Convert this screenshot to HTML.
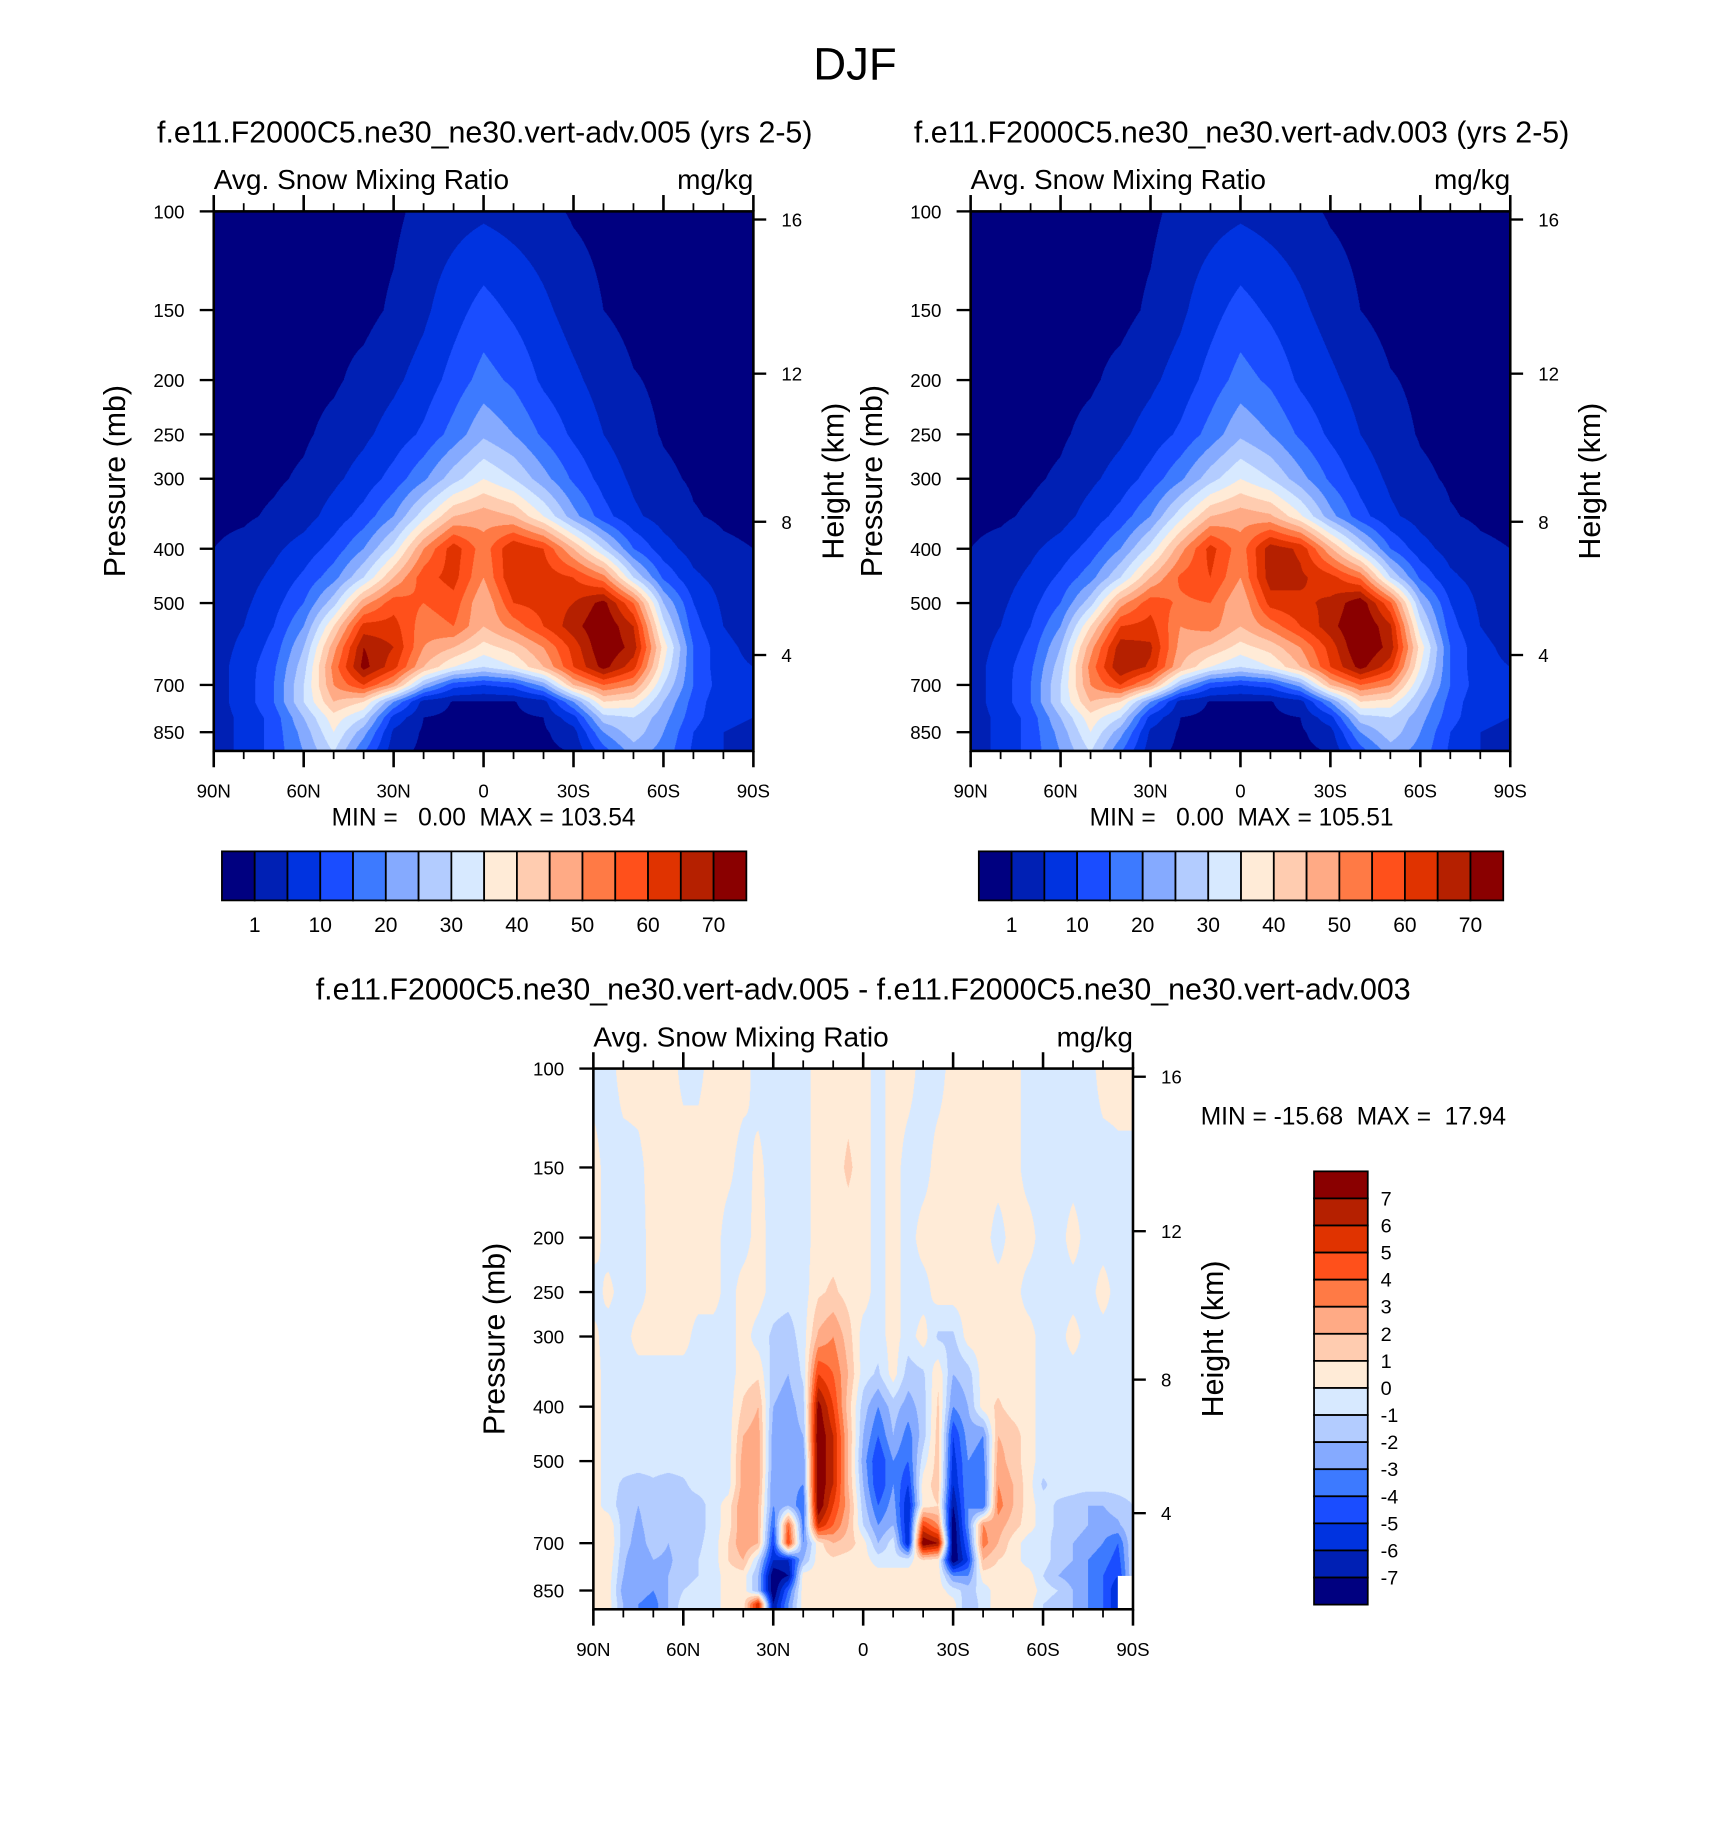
<!DOCTYPE html>
<html><head><meta charset="utf-8">
<style>
html,body{margin:0;padding:0;background:#fff;}
#stage{position:relative;width:1464px;height:1567px;transform-origin:0 0;transform:scale(1.16803,1.16784);}
canvas{position:absolute;}
svg{position:absolute;left:0;top:0;}
text{font-family:"Liberation Sans",Arial,sans-serif;fill:#000;}
</style></head>
<body>
<div id="stage">
<canvas id="c1" width="924" height="924" style="left:183px;top:181px;width:462px;height:462px"></canvas>
<canvas id="c2" width="924" height="924" style="left:831px;top:181px;width:462px;height:462px"></canvas>
<canvas id="c3" width="924" height="924" style="left:508px;top:915px;width:462px;height:463px"></canvas>
<svg id="svg" width="1464" height="1567" viewBox="0 0 1464 1567">
<text x="732" y="68" font-size="39" text-anchor="middle">DJF</text>
<text x="415" y="122" font-size="26" text-anchor="middle">f.e11.F2000C5.ne30_ne30.vert-adv.005 (yrs 2-5)</text>
<text x="1063" y="122" font-size="26" text-anchor="middle">f.e11.F2000C5.ne30_ne30.vert-adv.003 (yrs 2-5)</text>
<text x="739" y="856" font-size="26" text-anchor="middle">f.e11.F2000C5.ne30_ne30.vert-adv.005 - f.e11.F2000C5.ne30_ne30.vert-adv.003</text>
<text x="414" y="707" font-size="21" text-anchor="middle" xml:space="preserve">MIN =   0.00  MAX = 103.54</text>
<text x="1063" y="707" font-size="21" text-anchor="middle" xml:space="preserve">MIN =   0.00  MAX = 105.51</text>
<text x="1028" y="963" font-size="21" xml:space="preserve">MIN = -15.68  MAX =  17.94</text>
</svg>
</div>
<script>
// ---------- data ----------
const meanColors = ['#000080','#0020b4','#0033e0','#1a4dff','#3d7aff','#85aaff','#b3ccff','#d7e9ff','#ffebd7','#ffccb0','#ffaa85','#ff7a45','#ff501b','#e03300','#b52000','#8a0000'];
const meanLevels = [1,5,10,15,20,25,30,35,40,45,50,55,60,65,70];
const meanLabels = ['1','10','20','30','40','50','60','70'];
const diffLevels = [-7,-6,-5,-4,-3,-2,-1,0,1,2,3,4,5,6,7];
const diffLabels = ['7','6','5','4','3','2','1','0','-1','-2','-3','-4','-5','-6','-7'];
const pressureTicks = [100,150,200,250,300,400,500,700,850];
const kmTicks = [16,12,8,4];
const kmPressure = [103.4,194.8,358,619];
const latMajor = [90,60,30,0,-30,-60,-90];
const latMajorLabels = ['90N','60N','30N','0','30S','60S','90S'];
const meanLats = [90,80,70,60,50,40,30,20,10,0,-10,-20,-30,-40,-50,-60,-70,-80,-90];
const meanPres = [100,150,200,250,300,350,400,450,500,550,600,650,700,750,800,850,925];
const snow005 = [
[0,0,0,0,0,0,0.3,2,3,4,3,2,0.6,0,0,0,0,0,0],
[0,0,0,0,0,0,1.5,4,8,12,9,6,3,1,0,0,0,0,0],
[0,0,0,0,0.5,2,4,7,12,17,14,9,6,3,1.2,0.5,0,0,0],
[0,0,0,0.5,2,4,7,11,17,24,20,14,9,5,2,0.8,0.3,0,0],
[0,0,0.5,1.5,4,7,12,19,28,35,30,22,14,8,4,1.5,0.7,0.3,0],
[0.3,0.5,1.5,3,7,12,20,33,45,48,45,35,22,12,6,3,1.2,0.6,0.3],
[1,2,4,7,12,20,32,50,63,52,65,60,45,30,15,7,3,1.5,1],
[2,3,6,11,18,30,45,58,62,50,65,63,60,52,30,14,6,3,2],
[2.5,4,8,15,28,48,58,55,58,45,60,62,65,72,55,25,10,4,3],
[3,5,10,20,40,62,62,52,55,45,52,60,68,75,65,32,12,5,3],
[3,6,12,25,48,70,65,50,45,38,42,50,62,75,68,38,15,6,4],
[3,7,14,28,52,72,62,45,35,30,35,45,60,72,62,35,15,6,5],
[3,7,15,30,50,60,48,25,12,10,12,22,45,55,50,30,15,7,5],
[3,7,15,30,45,40,20,3,0.8,0.6,0.8,3,20,40,38,25,13,6,5],
[3,6,12,25,38,30,8,1,0.5,0.5,0.5,1,8,28,30,22,12,6,5],
[3,6,12,22,35,22,4,0.5,0.3,0.3,0.3,0.5,3,20,28,20,10,5,4],
[3,6,12,20,30,15,2,0.3,0.3,0.3,0.3,0.3,1,12,22,18,9,5,4]];
const snow003 = [
[0,0,0,0,0,0,0.3,2,3,4,3,2,0.6,0,0,0,0,0,0],
[0,0,0,0,0,0,1.5,4,8,12,9,6,3,1,0,0,0,0,0],
[0,0,0,0,0.5,2,4,7,12,17,14,9,6,3,1.2,0.5,0,0,0],
[0,0,0,0.5,2,4,7,11,17,24,20,14,9,5,2,0.8,0.3,0,0],
[0,0,0.5,1.5,4,7,12,19,28,35,30,22,14,8,4,1.5,0.7,0.3,0],
[0.3,0.5,1.5,3,7,12,20,33,45,48,46,36,22,12,6,3,1.2,0.6,0.3],
[1,2,4,7,12,20,32,48,62,52,68,64,46,30,15,7,3,1.5,1],
[2,3,6,11,18,30,45,56,60,50,68,66,62,54,30,14,6,3,2],
[2.5,4,8,15,28,48,58,54,55,45,62,64,66,74,56,25,10,4,3],
[3,5,10,20,40,60,62,50,52,45,52,60,68,76,66,32,12,5,3],
[3,6,12,25,48,68,66,48,44,38,42,50,62,76,68,38,15,6,4],
[3,7,14,28,52,70,64,45,35,30,35,45,60,72,62,35,15,6,5],
[3,7,15,30,50,60,48,25,12,10,12,22,45,55,50,30,15,7,5],
[3,7,15,30,45,40,20,3,0.8,0.6,0.8,3,20,40,38,25,13,6,5],
[3,6,12,25,38,30,8,1,0.5,0.5,0.5,1,8,28,30,22,12,6,5],
[3,6,12,22,35,22,4,0.5,0.3,0.3,0.3,0.5,3,20,28,20,10,5,4],
[3,6,12,20,30,15,2,0.3,0.3,0.3,0.3,0.3,1,12,22,18,9,5,4]];
const diffLats = [90,85,80,75,70,65,60,55,50,45,40,35,30,25,20,15,10,5,0,-5,-10,-15,-20,-25,-30,-35,-40,-45,-50,-55,-60,-65,-70,-75,-80,-85,-90];
const diffPres = [100,150,200,250,300,350,400,450,500,550,600,650,700,750,800,850,900,925];
const snowDiff = [
[-.5,-.5,.5,.5,.5,.5,-.3,-.3,.5,.5,.5,-.5,-.5,-.5,-.5,.5,.5,.5,.5,-.5,.5,.5,-.5,-.5,.5,.5,.5,.5,.5,-.5,-.5,-.5,-.5,-.5,.5,.5,.5],
[.5,-.5,-.5,-.3,.5,.5,.5,.5,.5,.3,-.5,.3,-.5,-.5,-.5,.5,.5,1.2,.5,-.5,.5,-.5,-.5,.5,.5,.5,.5,.5,.5,-.5,-.5,-.5,-.5,-.5,-.5,-.3,-.3],
[.5,-.5,-.5,-.5,.5,.5,.5,.5,.5,-.5,-.5,.5,-.5,-.5,-.5,.5,.5,.5,.5,-.5,.5,-.5,.5,.5,.5,.5,.5,-.5,.5,.5,-.5,-.5,.5,-.5,-.5,-.5,-.5],
[-.5,.3,-.5,-.5,.5,.5,.5,.5,.5,-.5,.5,.5,-.5,-.6,-.5,.8,1.2,.6,.5,-.5,.5,-.5,-.5,.5,.5,.5,.5,.5,.5,-.5,-.5,-.5,-.5,-.5,.5,-.5,-.5],
[.3,-.5,-.5,.5,.5,.5,.5,-.5,-.5,-.5,.5,-.5,-1.2,-1.5,-.5,2.2,3,1.5,-.5,-.5,.5,-.5,.5,-1.2,-1.2,.5,.5,.5,.5,.5,-.5,-.5,.5,-.5,-.5,-.5,-.5],
[.5,-.5,-.5,-.5,-.5,-.5,-.5,-.5,-.5,-.5,.5,.8,-1.5,-2,-.8,5,4,2,-.5,-1.2,.5,-1.5,-1.2,.8,-2,-1.5,.5,.5,.5,.5,-.5,-.5,-.5,-.5,-.5,-.5,-.5],
[.5,-.5,-.5,-.5,-.5,-.5,-.5,-.5,-.5,-.5,1.2,2,-2,-2.5,-1.5,7.5,5,1.5,-1.5,-3,-1.5,-2.5,-1.5,1.2,-3,-2,.5,1.2,.5,.5,-.5,-.5,-.5,-.5,-.5,-.5,-.5],
[.5,-.5,-.5,-.5,-.5,-.5,-.5,-.5,-.5,-.5,2,2.5,-2.5,-2.5,-2,8,6,2,-2,-4,-2,-3.5,-1.5,1.5,-5,-2.5,-3,2,1.5,.5,-.5,-.5,-.5,-.5,-.5,-.5,-.5],
[.5,-.5,-.5,-.5,-.5,-.5,-.5,-.5,-.5,-.5,2.5,2.5,-2.5,-3,-3,8,6,2,-2.5,-5,-3,-4,-.5,1.5,-5.5,-3,-3.5,2.5,1.5,.5,-.5,-.5,-.5,-.5,-.5,-.5,-.5],
[.5,-.5,-1.2,-1.5,-1.2,-1.5,-1.2,-.5,-.5,-.5,2.5,2.5,-3,-2.5,-3,8,6,2,-2,-5,-3,-5,.5,1.5,-6,-3,-4,3,2,.5,-1.2,-.5,-.5,-.5,-.5,-.5,-.5],
[.5,-.5,-1.5,-2,-1.5,-2,-1.5,-1.5,-.5,.5,3,2,-3,-2,-4,8,5,2.5,-1.5,-4,-2.5,-6,.5,1,-7,-3,-4,3.5,2,.5,-.5,-1.2,-1.5,-2,-2,-1.5,-1],
[.5,.8,-1.5,-2.2,-1.5,-2,-1.5,-1.5,-.5,.5,3,2,-4,4,-3.5,6,4,2,-1,-3,-2,-6,5,3,-8,-3,3,2.5,1.5,.5,-.5,-1.2,-1.5,-2,-2.5,-2.2,-1],
[.5,1,-1.5,-2.5,-1.5,-2,-1.5,-1.2,-.5,1,3,2,-5,5,-3,.5,2,1.5,.5,-2,-.5,-6,8,7,-8,-4,3.5,2,.5,-.5,-.5,-1.5,-2,-2.5,-3,-4,-1],
[.5,.8,-1.8,-3,-2,-2.2,-1.5,-1,-.5,1,2,-1,-6,-6,-2,.5,.8,.5,.5,-.5,-.5,-.5,1,.5,-8,-5,2,1,.5,-.5,-.5,-1.5,-2,-3,-3.5,-4.5,-1],
[.5,.5,-2,-3,-2.5,-2,-1.5,-1,-.5,.5,.5,-2,-8,-7,.5,.5,.5,.5,.5,.5,.5,.5,.5,.5,-3,-3,.5,.5,.5,.5,-1,-2,-2.5,-3,-4,-5,-1],
[.5,.5,-2.5,-2.5,-3,-2,-1,-.5,-.5,.5,.5,-2,-8,-4,.5,.5,.5,.5,.5,.5,.5,.5,.5,.5,-.5,-1.5,-.5,.5,.5,.8,-.5,-1,-2,-3,-4,-6,NaN],
[.5,.5,-2,-3,-3.5,-2,-.5,-.5,-.5,.5,.5,6,-7,-3,.5,.5,.5,.5,.5,.5,.5,.5,.5,.5,.5,-2,-.5,.5,.5,.5,-1,-1.5,-2,-3,-4,-6,NaN],
[.5,.5,-2,-3,-3.5,-2,-.5,-.5,-.5,.5,.5,6,-7,-3,.5,.5,.5,.5,.5,.5,.5,.5,.5,.5,.5,-2,-.5,.5,.5,.5,-1,-1.5,-2,-3,-4,-6,NaN]];

// ---------- scales ----------
const PBOT = 918;
function yOf(p, top, h){ return top + h*Math.log(p/100)/Math.log(PBOT/100); }
function xOf(lat, left, w){ return left + w*(90-lat)/180; }
function hex(c){ return [parseInt(c.substr(1,2),16),parseInt(c.substr(3,2),16),parseInt(c.substr(5,2),16)]; }
const rgb = meanColors.map(hex);
function colorIndex(v, levels){ let k=0; while(k<levels.length && v>=levels[k]) k++; return k; }

function drawField(id, lats, pres, grid, levels){
  const cv=document.getElementById(id), ctx=cv.getContext('2d');
  const W=cv.width, H=cv.height, img=ctx.createImageData(W,H);
  const lnp = pres.map(p=>Math.log(p));
  const lmax=Math.log(PBOT/100);
  for(let py=0;py<H;py++){
    const lp = Math.log(100)+lmax*(py+0.5)/H;
    let r=0; while(r<lnp.length-2 && lp>lnp[r+1]) r++;
    let fy=(lp-lnp[r])/(lnp[r+1]-lnp[r]); fy=Math.max(0,Math.min(1,fy));
    for(let px=0;px<W;px++){
      const lat = 90-180*(px+0.5)/W;
      const fc=(lats[0]-lat)/(lats[0]-lats[1]);
      let c=Math.min(lats.length-2,Math.floor(fc)); let fx=fc-c;
      const a=grid[r][c],b=grid[r][c+1],d=grid[r+1][c],e=grid[r+1][c+1];
      const o=(py*W+px)*4;
      if(isNaN(a)||isNaN(b)||isNaN(d)||isNaN(e)){ img.data[o]=255;img.data[o+1]=255;img.data[o+2]=255;img.data[o+3]=255; continue; }
      const v=(a*(1-fx)+b*fx)*(1-fy)+(d*(1-fx)+e*fx)*fy;
      const col=rgb[colorIndex(v,levels)];
      img.data[o]=col[0];img.data[o+1]=col[1];img.data[o+2]=col[2];img.data[o+3]=255;
    }
  }
  ctx.putImageData(img,0,0);
}
drawField('c1',meanLats,meanPres,snow005,meanLevels);
drawField('c2',meanLats,meanPres,snow003,meanLevels);
drawField('c3',diffLats,diffPres,snowDiff,diffLevels);

// ---------- axes ----------
const NS='http://www.w3.org/2000/svg', svg=document.getElementById('svg');
function mk(tag, attrs){ const el=document.createElementNS(NS,tag); for(const k in attrs) el.setAttribute(k,attrs[k]); svg.appendChild(el); return el; }
function line(x1,y1,x2,y2,w,name){
  const el=mk('line',{x1:x1,y1:y1,x2:x2,y2:y2,stroke:'#000','stroke-width':w});
  
  
  return el;
}
function txt(x,y,s,size,anchor,name){
  const el=mk('text',{x:x,y:y,'font-size':size,'text-anchor':anchor});
  el.textContent=s;
  
  
  return el;
}
function panel(L,T,W,H,pfx){
  const fr=mk('rect',{x:L,y:T,width:W,height:H,fill:'none',stroke:'#000','stroke-width':2.2});
  
  
  pressureTicks.forEach(p=>{ const y=yOf(p,T,H); line(L-12,y,L,y,2,pfx+'-y-tick'); txt(L-25,y+6,String(p),16,'end',pfx+'-y-tick-label'); });
  kmTicks.forEach((k,i)=>{ const y=yOf(kmPressure[i],T,H); line(L+W,y,L+W+11,y,2,pfx+'-km-tick'); txt(L+W+24,y+6,String(k),16,'start',pfx+'-km-tick-label'); });
  for(let lat=90;lat>=-90;lat-=10){
    const x=xOf(lat,L,W), major=(lat%30===0);
    line(x,T+H,x,T+H+(major?14:7),major?2.2:1.5,pfx+'-x-tick');
    line(x,T,x,T-(major?14:7),major?2.2:1.5,pfx+'-top-tick');
  }
  latMajor.forEach((lat,i)=>{ txt(xOf(lat,L,W),T+H+40,latMajorLabels[i],16,'middle',pfx+'-x-tick-label'); });
  txt(L,T-19,'Avg. Snow Mixing Ratio',24,'start',pfx+'-long-name');
  txt(L+W,T-19,'mg/kg',24,'end',pfx+'-units');
  const yt=txt(0,0,'Pressure (mb)',26,'middle',pfx+'-y-axis-title');
  yt.setAttribute('transform','translate('+(L-76)+','+(T+H/2)+') rotate(-90)');
  const ht=txt(0,0,'Height (km)',26,'middle',pfx+'-right-axis-title');
  ht.setAttribute('transform','translate('+(L+W+77)+','+(T+H/2)+') rotate(-90)');
}
panel(183,181,462,462,'left-panel');
panel(831,181,462,462,'right-panel');
panel(508,915,462,463,'diff-panel');

function hbar(L,T,W,H,pfx){
  const n=meanColors.length, bw=W/n;
  meanColors.forEach((c,i)=>{
    const r=mk('rect',{x:L+i*bw,y:T,width:bw,height:H,fill:c,stroke:'#000','stroke-width':1.5});
    
    
  });
  meanLabels.forEach((s,i)=>{ txt(L+(1+2*i)*bw,T+H+27,s,18,'middle',pfx+'-colorbar-label'); });
}
hbar(190,729,449,42,'left');
hbar(838,729,449,42,'right');

(function vbar(){
  const L=1125,T=1003,W=46,H=371,n=meanColors.length,bh=H/n;
  meanColors.slice().reverse().forEach((c,i)=>{
    const r=mk('rect',{x:L,y:T+i*bh,width:W,height:bh,fill:c,stroke:'#000','stroke-width':1.5});
    
    
  });
  diffLabels.forEach((s,i)=>{ txt(L+W+11,T+(i+1)*bh+6,s,17,'start','diff-colorbar-label'); });
})();
</script>
</body></html>
